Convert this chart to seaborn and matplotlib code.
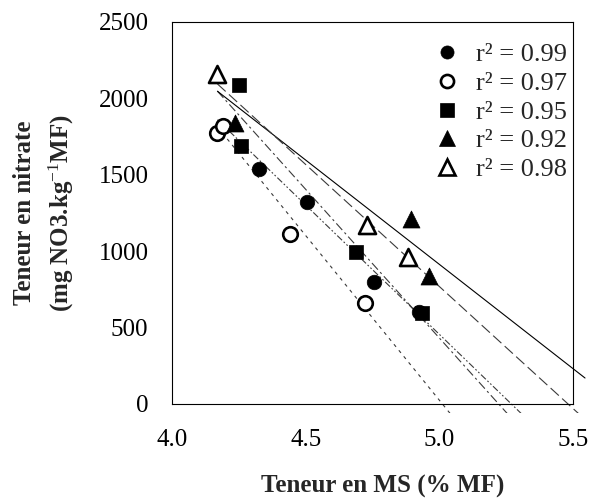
import numpy as np
import pandas as pd
import matplotlib
matplotlib.use("Agg")
import matplotlib.pyplot as plt
from matplotlib.patches import Rectangle
from matplotlib.lines import Line2D
import seaborn as sns

# ---- data ----
labels = ["r² = 0.99", "r² = 0.97", "r² = 0.95", "r² = 0.92", "r² = 0.98"]
x_fc = [4.325, 4.504, 4.757, 4.925]
y_fc = [1536, 1320, 800, 604]
x_oc = [4.170, 4.192, 4.440, 4.723]
y_oc = [1776, 1819, 1110, 663]
x_fs = [4.251, 4.259, 4.688, 4.934]
y_fs = [2088, 1691, 993, 593]
x_ft = [4.236, 4.893, 4.960]
y_ft = [1841, 1209, 838]
x_ot = [4.170, 4.730, 4.882]
y_ot = [2160, 1172, 964]
# regression lines as drawn in the picture: y = intercept + slope * x
fit_intercept = [8916, 10800, 10162, 7739, 8754]
fit_slope = [-1692, -2155, -1946, -1365, -1597]
fit_x = [4.17, 5.545]
xticks = [4.0, 4.5, 5.0, 5.5]
xticklabels = ["4.0", "4.5", "5.0", "5.5"]
yticks = [0, 500, 1000, 1500, 2000, 2500]

series = [
    (x_fc, y_fc, "o", "black", (0, (6, 2, 1.5, 2, 1.5, 2))),
    (x_oc, y_oc, "o", "white", (0, (3, 4))),
    (x_fs, y_fs, "s", "black", (0, (8, 3, 2, 3))),
    (x_ft, y_ft, "^", "black", "-"),
    (x_ot, y_ot, "^", "white", (0, (10, 4))),
]
msize = {"o": 110, "s": 110, "^": 150}

sns.set_style("white")
plt.rcParams["font.family"] = ["Liberation Serif", "DejaVu Serif"]
plt.rcParams["mathtext.fontset"] = "custom"
plt.rcParams["mathtext.rm"] = "Liberation Serif"
plt.rcParams["mathtext.it"] = "Liberation Serif:italic"
plt.rcParams["mathtext.bf"] = "Liberation Serif:bold"

fig = plt.figure(figsize=(5.99, 5.01), dpi=100)
ax = fig.add_axes([172 / 599, 1 - 404 / 501, 401 / 599, 382 / 501])

clip = Rectangle((4.0, -57), 1.6, 2700, transform=ax.transData, facecolor="none", edgecolor="none")

handles = []
for (xs, ys, m, fc, ls), lab, a, b in zip(series, labels, fit_intercept, fit_slope):
    xl = np.array(fit_x)
    ln, = ax.plot(xl, a + b * xl, color="#3a3a3a" if ls != "-" else "black",
                  lw=0.8, linestyle=ls, zorder=2, clip_on=True)
    ln.set_clip_path(clip)
    df = pd.DataFrame({"x": xs, "y": ys})
    sns.scatterplot(data=df, x="x", y="y", marker=m, s=msize[m], color=fc,
                    edgecolor="black", linewidth=1.9 if fc == "white" else 0.5,
                    ax=ax, zorder=3, legend=False)
    handles.append(Line2D([], [], linestyle="none", marker=m,
                          markersize=np.sqrt(msize[m]) * 0.9,
                          markerfacecolor=fc, markeredgecolor="black",
                          markeredgewidth=1.9 if fc == "white" else 0.5))

ax.set_xlim(4.0, 5.5)
ax.set_ylim(0, 2500)
ax.set_xticks(xticks)
ax.set_xticklabels(xticklabels)
ax.set_yticks(yticks)
ax.tick_params(axis="both", direction="in", length=4, width=0.8, labelsize=18, colors="black")
ax.tick_params(axis="x", pad=18)
ax.tick_params(axis="y", pad=17)
for sp in ax.spines.values():
    sp.set_visible(True)
    sp.set_color("black")
    sp.set_linewidth(0.8)

ax.set_xlabel("Teneur en MS (% MF)", fontsize=18, fontweight="bold")
ax.xaxis.set_label_coords(0.526, -0.215)
ax.xaxis.label.set_verticalalignment("center")
ax.set_ylabel("Teneur en nitrate\n(mg NO3.kg$^{\\mathrm{-1}}$MF)", fontsize=18,
              fontweight="bold", linespacing=1.5)
ax.yaxis.set_label_coords(-0.317, 0.5)
ax.yaxis.label.set_verticalalignment("center")

leg = ax.legend(handles, labels, loc="upper right", bbox_to_anchor=(1.03, 0.994),
                frameon=False, fontsize=19, handletextpad=0.6, labelspacing=0.2,
                handlelength=1.0, borderpad=0.2)

fig.savefig("out.png", dpi=100)
